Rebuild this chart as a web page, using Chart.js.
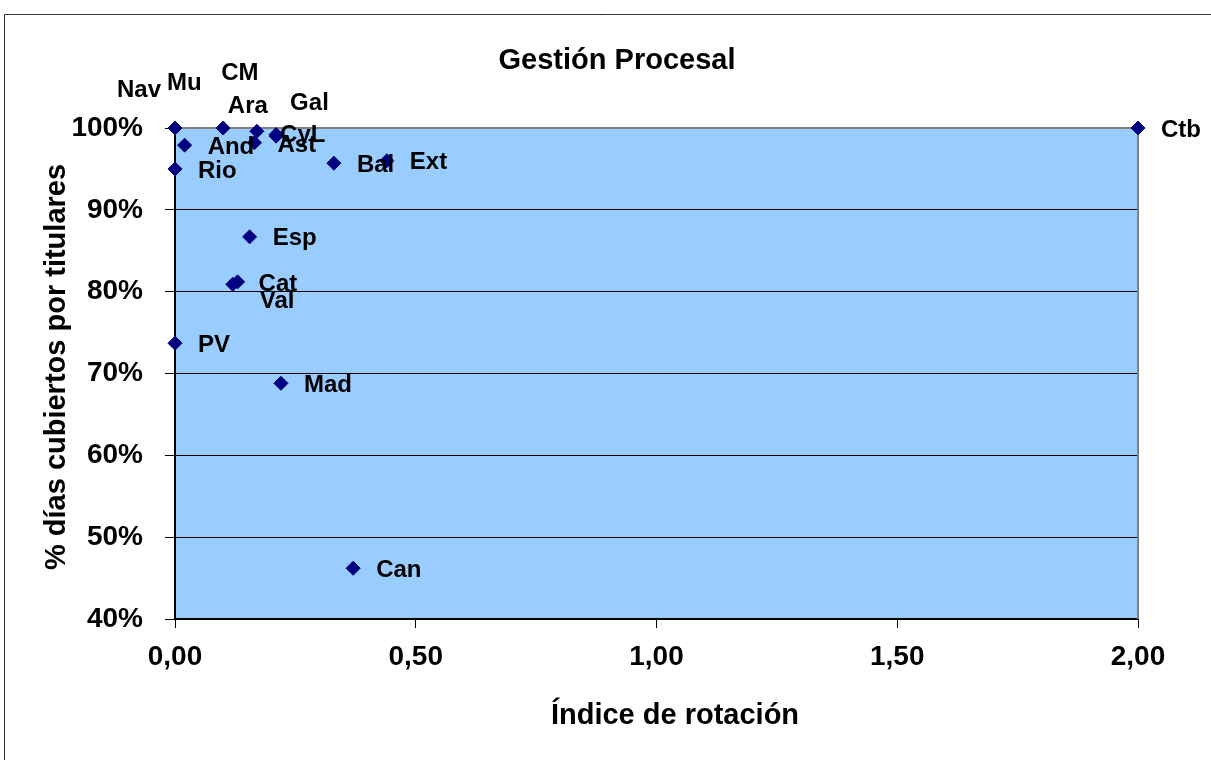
<!DOCTYPE html>
<html lang="es">

<head>
    <meta charset="UTF-8">
    <meta name="viewport" content="width=device-width, initial-scale=1.0">
    <script src="https://cdn.jsdelivr.net/npm/chart.js"></script>
    <title>Gestión Procesal</title>
    <style>
        html, body { margin: 0; padding: 0; background: #fff; overflow: hidden; }
        canvas { display: block; }
    </style>
</head>

<body>
    <canvas id="chart-gestion" width="1211" height="760"></canvas>
</body>

</html>

<script>
    // datos
    const regiones = ['Nav', 'Mu', 'CM', 'Ara', 'Gal', 'CyL', 'Ast', 'And', 'Rio', 'Bal', 'Ext', 'Esp', 'Cat', 'Val', 'PV', 'Mad', 'Can', 'Ctb'];
    const rotacion = [0, 0, 0.10, 0.17, 0.21, 0.21, 0.165, 0.02, 0, 0.33, 0.44, 0.155, 0.13, 0.12, 0, 0.22, 0.37, 2.00];
    const cobertura = [100, 100, 100, 99.6, 99.2, 99.0, 98.2, 97.9, 95.0, 95.7, 96.0, 86.7, 81.2, 80.9, 73.7, 68.8, 46.2, 100];
    const ticksX = [0, 0.5, 1, 1.5, 2];
    const ticksY = [40, 50, 60, 70, 80, 90, 100];

    const fuente = "'Liberation Sans', Arial, sans-serif";

    // desplazamiento de etiquetas movidas a mano (resto: a la derecha)
    const desplaz = {
        Nav: [-58, -38], Mu: [-8, -45], CM: [-2, -55], Ara: [-29, -25],
        Gal: [14, -31], CyL: [4, -1], Ast: [23, 3], Cat: [21, 3], Val: [27, 17]
    };

    const puntos = regiones.map((r, i) => ({ x: rotacion[i], y: cobertura[i] }));

    const marco = {
        id: 'marco',
        beforeDraw(chart) {
            const { ctx, chartArea: a } = chart;
            ctx.save();
            ctx.fillStyle = '#fff';
            ctx.fillRect(0, 0, chart.width, chart.height);
            ctx.strokeStyle = '#333';
            ctx.lineWidth = 1;
            ctx.beginPath();
            ctx.moveTo(4.5, 770);
            ctx.lineTo(4.5, 14.5);
            ctx.lineTo(1211, 14.5);
            ctx.stroke();
            ctx.fillStyle = '#99CCFF';
            ctx.fillRect(a.left, a.top, a.right - a.left, a.bottom - a.top);
            ctx.restore();
        },
        beforeDatasetsDraw(chart) {
            const { ctx, chartArea: a } = chart;
            ctx.save();
            ctx.strokeStyle = '#808080';
            ctx.lineWidth = 2;
            ctx.beginPath();
            ctx.moveTo(a.left, a.top);
            ctx.lineTo(a.right, a.top);
            ctx.lineTo(a.right, a.bottom);
            ctx.stroke();
            ctx.restore();
        },
        afterDraw(chart) {
            const { ctx } = chart;
            ctx.save();
            ctx.fillStyle = '#000';
            ctx.textAlign = 'center';
            ctx.textBaseline = 'middle';
            ctx.font = 'bold 29px ' + fuente;
            ctx.fillText('Gestión Procesal', 617, 61);
            ctx.fillText('Índice de rotación', 675, 716);
            ctx.translate(57, 367);
            ctx.rotate(-Math.PI / 2);
            ctx.fillText('% días cubiertos por titulares', 0, 0);
            ctx.restore();

            // etiquetas de datos
            const meta = chart.getDatasetMeta(0);
            ctx.save();
            ctx.fillStyle = '#000';
            ctx.font = 'bold 24px ' + fuente;
            ctx.textAlign = 'left';
            ctx.textBaseline = 'middle';
            meta.data.forEach((p, i) => {
                const d = desplaz[regiones[i]] || [23, 2];
                ctx.fillText(regiones[i], p.x + d[0], p.y + d[1]);
            });
            ctx.restore();
        }
    };

    const ctxGestion = document.getElementById('chart-gestion');

    new Chart(ctxGestion, {
        type: 'scatter',
        data: {
            datasets: [{
                label: 'Gestión Procesal',
                data: puntos,
                clip: false,
                pointStyle: 'rectRot',
                pointRadius: 7,
                pointHoverRadius: 7,
                backgroundColor: '#000080',
                borderColor: '#000080',
                borderWidth: 1
            }]
        },
        options: {
            responsive: false,
            animation: false,
            layout: {
                padding: { top: 128, right: 73, bottom: 0, left: 0 }
            },
            plugins: {
                legend: { display: false },
                tooltip: { enabled: false }
            },
            scales: {
                x: {
                    type: 'linear',
                    min: 0,
                    max: 2,
                    afterFit(s) { s.height = 141; },
                    afterBuildTicks(s) { s.ticks = ticksX.map(v => ({ value: v })); },
                    ticks: {
                        padding: 12,
                        color: '#000',
                        font: { family: fuente, size: 28, weight: 'bold' },
                        callback: v => v.toFixed(2).replace('.', ',')
                    },
                    grid: { drawOnChartArea: false, color: '#000', tickLength: 9 },
                    border: { color: '#000', width: 2 }
                },
                y: {
                    min: 40,
                    max: 100,
                    afterFit(s) { s.width = 175; },
                    afterBuildTicks(s) { s.ticks = ticksY.map(v => ({ value: v })); },
                    ticks: {
                        padding: 22,
                        color: '#000',
                        font: { family: fuente, size: 28, weight: 'bold' },
                        callback: v => v + '%'
                    },
                    grid: { color: '#000', tickLength: 10 },
                    border: { color: '#000', width: 2 }
                }
            }
        },
        plugins: [marco]
    });
</script>
